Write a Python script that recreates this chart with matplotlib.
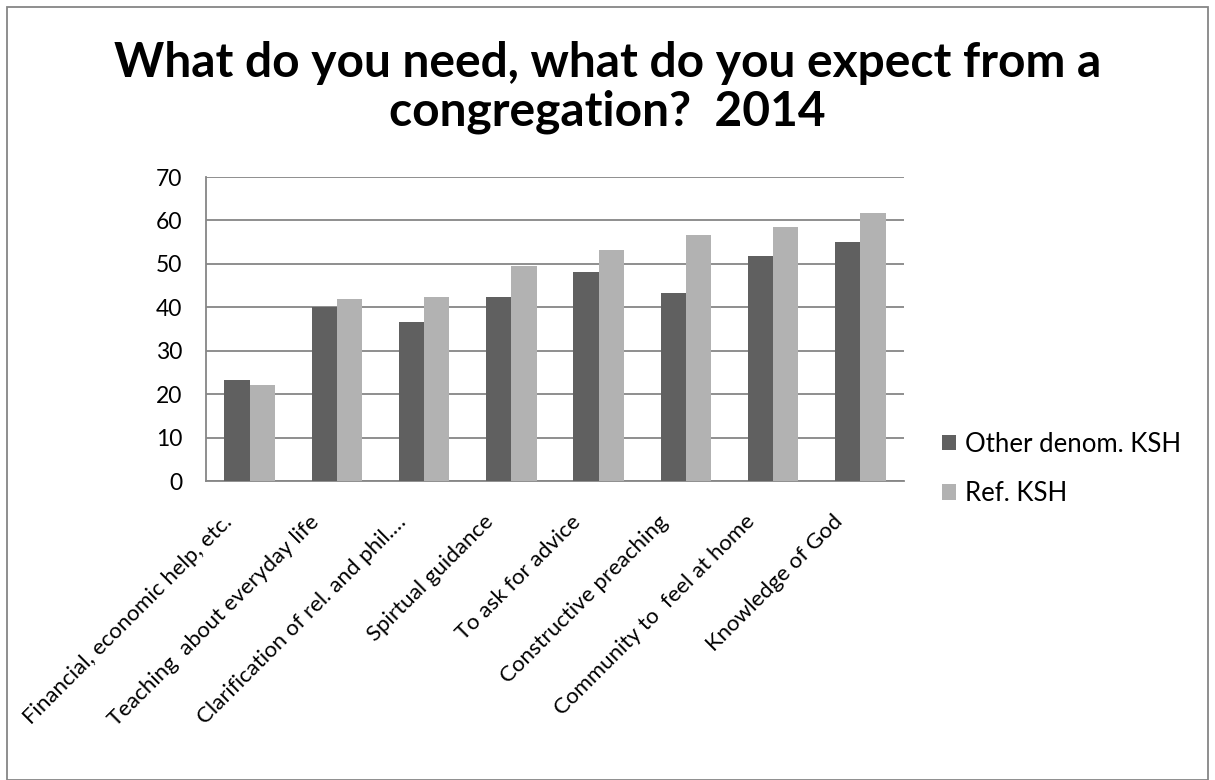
import matplotlib
matplotlib.use("Agg")
import matplotlib.pyplot as plt
import matplotlib.transforms as mtransforms
import numpy as np
from matplotlib.patches import Rectangle

plt.rcParams['font.family'] = ['Lato', 'DejaVu Sans']

categories = [
    "Financial, economic help, etc.",
    "Teaching  about everyday life",
    "Clarification of rel. and phil.…",
    "Spirtual guidance",
    "To ask for advice",
    "Constructive preaching",
    "Community to  feel at home",
    "Knowledge of God",
]
other_denom = [23.2, 40.1, 36.6, 42.3, 48.2, 43.2, 51.8, 55.1]
ref_ksh = [22.1, 41.9, 42.3, 49.5, 53.2, 56.7, 58.4, 61.7]
series_names = ["Other denom. KSH", "Ref. KSH"]
y_ticks = [0, 10, 20, 30, 40, 50, 60, 70]

fig = plt.figure(figsize=(12.15, 7.8), dpi=100)
ax = fig.add_axes([0.1695, 0.3833, 0.5745, 0.3897])

x = np.arange(len(categories))
w = 0.29
ax.bar(x - w / 2, other_denom, width=w, color="#606060", label=series_names[0], zorder=3)
ax.bar(x + w / 2, ref_ksh, width=w, color="#B2B2B2", label=series_names[1], zorder=3)

ax.set_xlim(-0.5, len(categories) - 0.5)
ax.set_ylim(0, 70)
ax.set_yticks(y_ticks)
ax.tick_params(axis="y", length=0, labelsize=16.5, pad=17)
ax.yaxis.grid(True, color="#868686", linewidth=1.3, zorder=0)
ax.set_xticks(x)
ax.set_xticklabels(categories, rotation=45, ha="right", rotation_mode="anchor", fontsize=16)
ax.tick_params(axis="x", length=0, pad=22)
# nudge the slanted labels a little to the left
shift = mtransforms.ScaledTranslation(-28 / 100, 0, fig.dpi_scale_trans)
for lbl in ax.get_xticklabels():
    lbl.set_transform(lbl.get_transform() + shift)

for side in ("top", "right"):
    ax.spines[side].set_visible(False)
for side in ("left", "bottom"):
    ax.spines[side].set_color("#868686")
    ax.spines[side].set_linewidth(1.3)

fig.text(0.5, 0.888, "What do you need, what do you expect from a\ncongregation?  2014",
         ha="center", va="center", fontsize=34.5, fontweight="bold", linespacing=1.12)

fig.legend(loc="upper left", bbox_to_anchor=(0.756, 0.476), frameon=False,
           fontsize=18.5, handlelength=0.55, handleheight=0.55, handletextpad=0.35,
           labelspacing=0.95)

# outer chart border
fig.patches.append(Rectangle((0.006, 0.0), 0.988, 0.991, transform=fig.transFigure,
                             fill=False, edgecolor="#868686", linewidth=1.3))

fig.savefig("out.png", dpi=100)
